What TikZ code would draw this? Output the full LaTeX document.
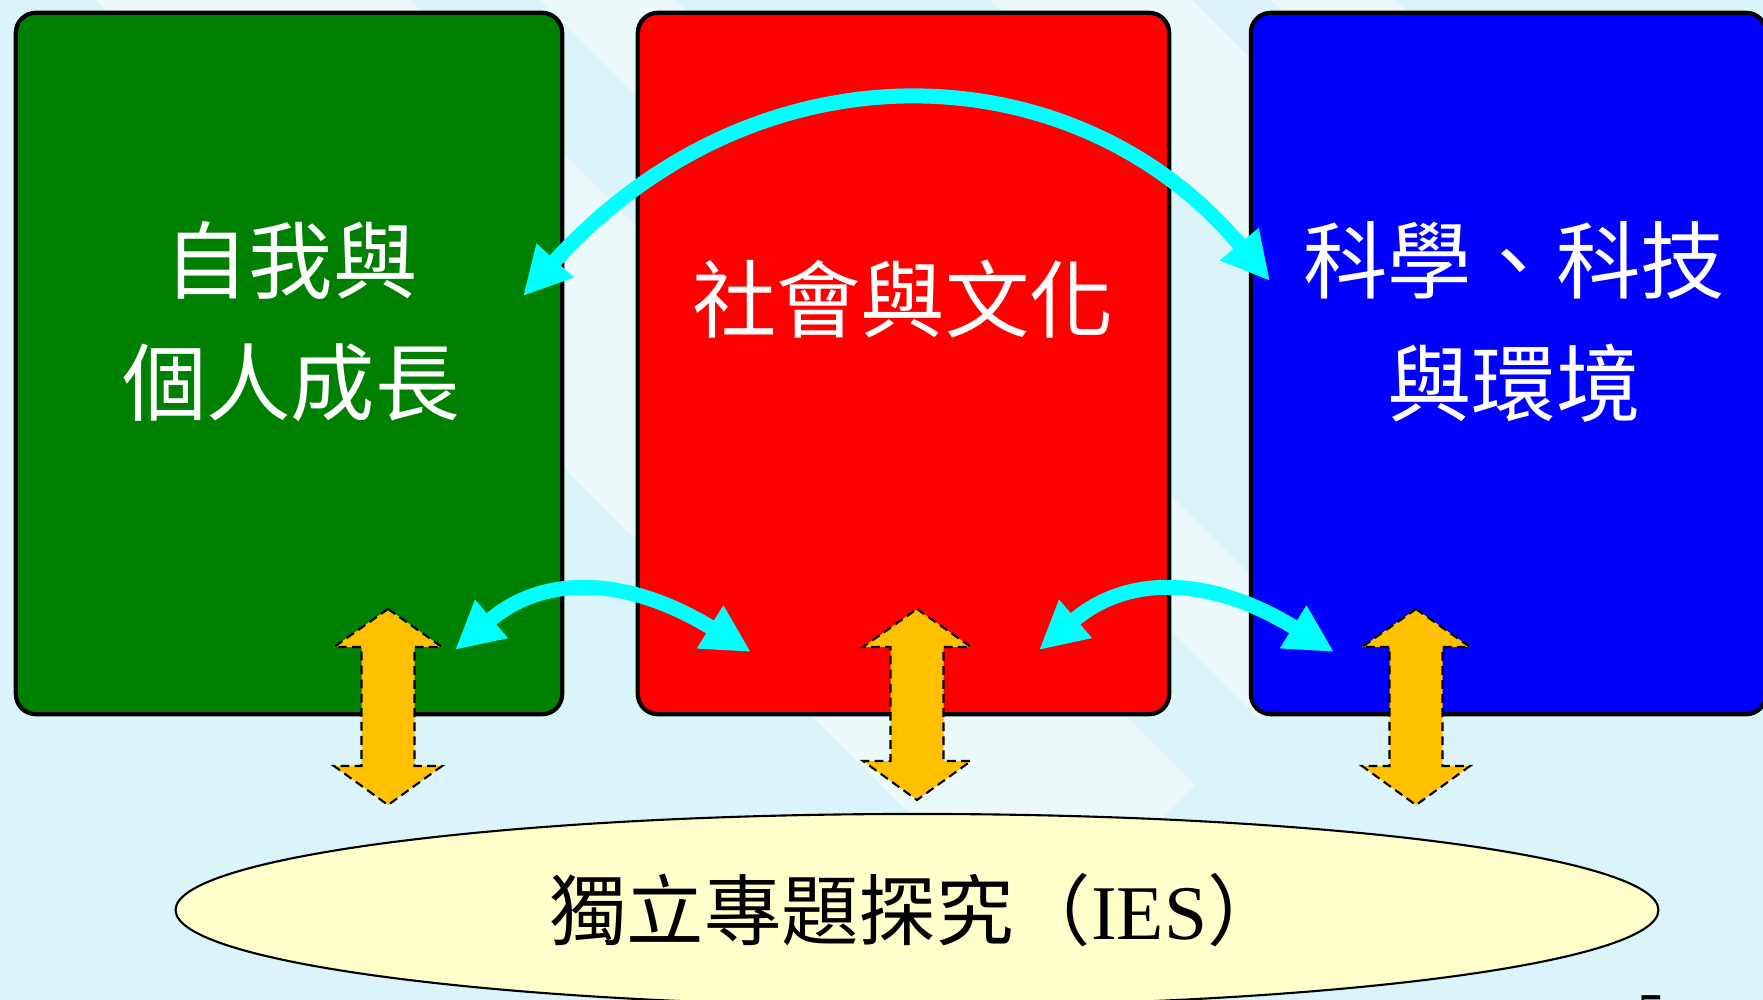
\documentclass[tikz,border=0pt]{standalone}
\usepackage{fontspec}
\setmainfont{Liberation Serif}
\newfontfamily\cjk{Noto Sans CJK TC}
\usetikzlibrary{arrows.meta,shapes.geometric}

\definecolor{bgblue}{RGB}{219,244,249}
\definecolor{bglight}{RGB}{235,249,251}
\definecolor{selfgreen}{RGB}{0,128,0}
\definecolor{socred}{RGB}{255,0,0}
\definecolor{sciblue}{RGB}{0,0,255}
\definecolor{linkcyan}{RGB}{0,255,255}
\definecolor{iesorange}{RGB}{255,192,0}
\definecolor{iesyellow}{RGB}{255,255,204}

\tikzset{
  area/.style={draw=black, line width=1.2pt, rounded corners=0.2cm, inner sep=0pt, minimum height=7.01cm},
  areatext/.style={text=white, align=center, inner sep=0pt, font=\cjk\fontsize{24pt}{34.7pt}\selectfont},
  link/.style={draw=linkcyan, line width=0.15cm, {Triangle[length=0.48cm,width=0.47cm]}-{Triangle[length=0.48cm,width=0.47cm]}},
  flow/.style={fill=iesorange, draw=black, line width=0.6pt, dash pattern=on 2.5pt off 1.5pt}
}

\begin{document}
\begin{tikzpicture}[x=0.01cm,y=-0.01cm]
  \useasboundingbox (0,0) rectangle (1763,1000);

  % background stripes
  \fill[bgblue] (0,0) rectangle (1763,1000);
  \fill[bglight] (96,0) -- (410,0) -- (1195,785) -- (1038,942) -- cycle;
  \fill[bglight] (540,0) -- (675,0) -- (1327.5,652.5) -- (1260,720) -- cycle;
  \fill[bglight] (990,0) -- (1192,0) -- (1586,394) -- (1485,495) -- cycle;
  \fill[bglight] (1271,0) -- (1395,0) -- (1687.5,292.5) -- (1625.5,354.5) -- cycle;

  % three areas
  \node[area, fill=selfgreen, minimum width=5.46cm] (self) at (289,363.5) {};
  \node[area, fill=socred, minimum width=5.31cm] (society) at (903.5,363.5) {};
  \node[area, fill=sciblue, minimum width=5.15cm] (science) at (1508.5,363.5) {};

  \node[areatext] (selftext) at (291,322) {自我與\\個人成長};
  \node[areatext] (soctext) at (903,299) {社會與文化};
  \node[areatext] (scitext) at (1514,322) {科學、科技\\與環境};

  % independent enquiry
  \node[ellipse, draw=black, line width=0.6pt, fill=iesyellow, minimum width=14.82cm, minimum height=1.92cm, inner sep=0pt, font=\fontsize{22pt}{26pt}\selectfont] (ies) at (917,910) {{\cjk 獨立專題探究（}IES{\cjk ）}};

  \node[anchor=north, inner sep=0pt, font=\fontsize{16pt}{18pt}\selectfont] (page) at (1652,995) {5};

  % flows to the study
  \foreach \x/\b in {388/766, 917/761, 1416/766}
    \draw[flow] (\x,609) -- ++(54,38) -- ++(-27.5,0) -- (\x+26.5,\b) -- ++(27.5,0)
      -- (\x,\b+39) -- ++(-54,-39) -- ++(27.5,0) -- (\x-26.5,647) -- ++(-27.5,0) -- cycle;

  % links between areas
  \coordinate (selftop) at (523,296);
  \coordinate (scitop) at (1270,281);
  \coordinate (selflow) at (455,650);
  \coordinate (soclowl) at (751,652);
  \coordinate (soclowr) at (1039,650);
  \coordinate (scilow) at (1334,652);
  \draw[link] (selftop) .. controls (761,34) and (1079,52) .. (scitop);
  \draw[link] (selflow) .. controls (544,574) and (627,576) .. (soclowl);
  \draw[link] (soclowr) .. controls (1128,574) and (1211,576) .. (scilow);
\end{tikzpicture}
\end{document}
